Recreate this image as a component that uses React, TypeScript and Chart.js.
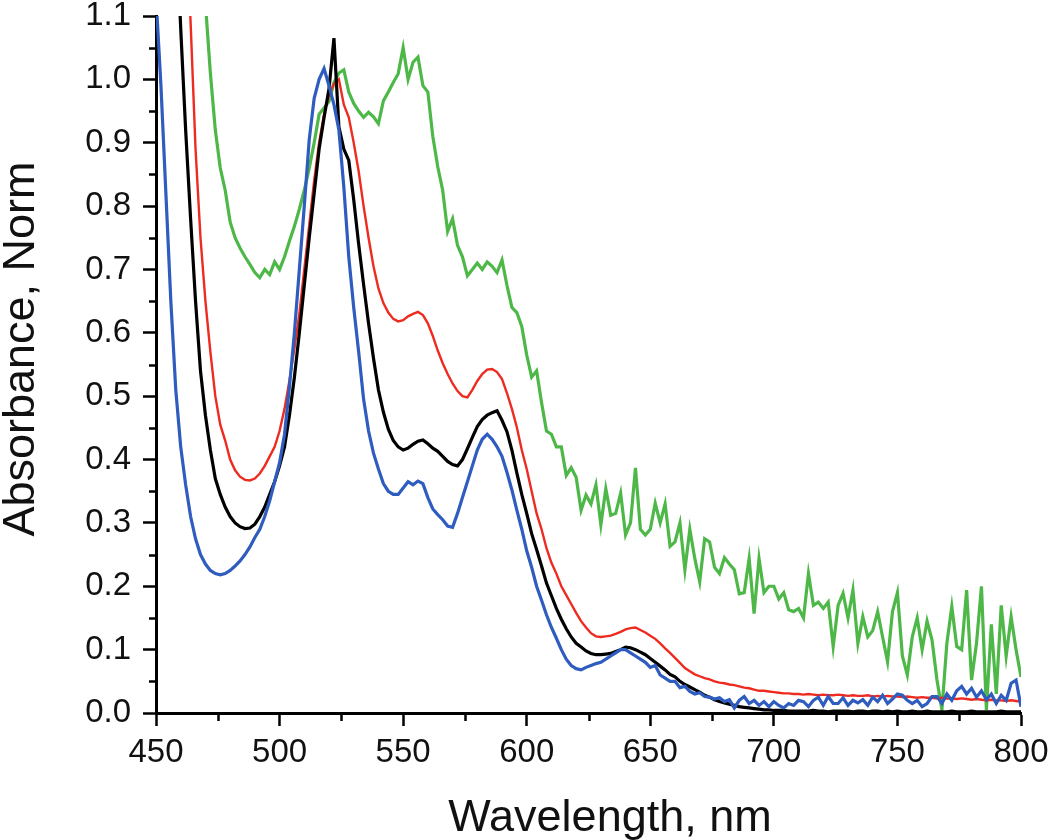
import React, { useEffect, useRef } from "react";
import { Chart, registerables } from "chart.js";

Chart.register(...registerables);

// Sampling grid (nm), 2 nm steps from 450 to 800
const wavelengths: number[] = Array.from({ length: 176 }, (_, i) => 450 + 2 * i);

const blueSeries: number[] = [
  1.13, 0.99, 0.82, 0.65, 0.51, 0.42, 0.36, 0.31, 0.275, 0.25,
  0.235, 0.225, 0.22, 0.218, 0.22, 0.225, 0.232, 0.24, 0.25, 0.262,
  0.277, 0.29, 0.31, 0.335, 0.365, 0.395, 0.44, 0.515, 0.6, 0.7,
  0.8, 0.905, 0.97, 1.0, 1.017, 0.99, 0.96, 0.92, 0.83, 0.72,
  0.64, 0.57, 0.495, 0.445, 0.41, 0.385, 0.362, 0.35, 0.345, 0.345,
  0.355, 0.365, 0.36, 0.366, 0.362, 0.34, 0.322, 0.313, 0.305, 0.295,
  0.293, 0.315, 0.34, 0.365, 0.39, 0.415, 0.432, 0.44, 0.432, 0.42,
  0.405, 0.38, 0.352, 0.32, 0.29, 0.256, 0.23, 0.2, 0.178, 0.155,
  0.135, 0.118, 0.1, 0.085, 0.075, 0.07, 0.068, 0.072, 0.075, 0.078,
  0.08, 0.085, 0.09, 0.095, 0.1, 0.1, 0.095, 0.09, 0.085, 0.08,
  0.072, 0.075, 0.06, 0.055, 0.05, 0.05, 0.04, 0.042, 0.034, 0.03,
  0.032, 0.026, 0.025, 0.022, 0.024, 0.018, 0.021, 0.008, 0.02, 0.026,
  0.015, 0.02, 0.012, 0.018, 0.01, 0.018, 0.012, 0.008, 0.015, 0.012,
  0.02, 0.018, 0.01, 0.02, 0.025, 0.012, 0.026, 0.015, 0.015, 0.024,
  0.012, 0.02, 0.016, 0.021, 0.012, 0.025, 0.018, 0.028, 0.015, 0.022,
  0.03, 0.028, 0.02, 0.015, 0.02, 0.01, 0.015, 0.026, 0.026, 0.015,
  0.03, 0.02, 0.035, 0.042, 0.03, 0.039, 0.025, 0.035, 0.021, 0.03,
  0.015, 0.028, 0.02, 0.047, 0.052, 0.01,
];

const blackSeries: number[] = [
  1.9, 1.75, 1.6, 1.44, 1.26, 1.08, 0.92, 0.78, 0.65, 0.54,
  0.47, 0.415, 0.37, 0.345, 0.325, 0.31, 0.3, 0.294, 0.291, 0.292,
  0.298, 0.31, 0.325, 0.345, 0.365, 0.39, 0.42, 0.47, 0.53, 0.6,
  0.675, 0.75, 0.82, 0.89, 0.94, 0.985, 1.065, 0.925, 0.89, 0.872,
  0.81, 0.74, 0.676, 0.615, 0.56, 0.51, 0.475, 0.448, 0.43, 0.42,
  0.415, 0.418, 0.424, 0.429, 0.431, 0.425, 0.418, 0.413, 0.405, 0.397,
  0.392, 0.39, 0.4, 0.417, 0.435, 0.452, 0.463, 0.47, 0.474, 0.477,
  0.462, 0.444, 0.415, 0.379, 0.345, 0.315, 0.283, 0.258, 0.232, 0.205,
  0.185, 0.165, 0.148, 0.133, 0.12, 0.11, 0.104, 0.098, 0.094, 0.092,
  0.092, 0.093, 0.094, 0.097, 0.1, 0.104, 0.103, 0.1, 0.096, 0.092,
  0.086, 0.08, 0.074, 0.068, 0.061, 0.057, 0.05, 0.045, 0.041, 0.037,
  0.033, 0.028, 0.025, 0.021, 0.018, 0.016, 0.014, 0.012, 0.01, 0.009,
  0.008, 0.007, 0.006, 0.005, 0.005, 0.004, 0.004, 0.004, 0.003, 0.003,
  0.003, 0.003, 0.003, 0.004, 0.003, 0.003, 0.002, 0.003, 0.003, 0.003,
  0.003, 0.002, 0.003, 0.003, 0.002, 0.003, 0.003, 0.002, 0.003, 0.002,
  0.003, 0.002, 0.002, 0.003, 0.002, 0.002, 0.003, 0.002, 0.002, 0.002,
  0.002, 0.003, 0.002, 0.002, 0.002, 0.003, 0.002, 0.002, 0.002, 0.002,
  0.002, 0.003, 0.002, 0.002, 0.002, 0.002,
];

const redSeries: number[] = [
  2.4, 2.2, 2.0, 1.8, 1.62, 1.45, 1.28, 1.09, 0.89, 0.75,
  0.65, 0.57, 0.5, 0.455, 0.43, 0.4, 0.383, 0.373, 0.368, 0.367,
  0.37, 0.378, 0.39, 0.405, 0.42, 0.445, 0.48, 0.525, 0.575, 0.63,
  0.7, 0.77, 0.84, 0.9, 0.945, 0.975, 0.993, 1.0, 0.96, 0.94,
  0.9, 0.855, 0.8, 0.75, 0.705, 0.67, 0.647, 0.632, 0.622, 0.618,
  0.62, 0.626, 0.63, 0.633, 0.628, 0.615, 0.595, 0.572, 0.552, 0.535,
  0.52, 0.508, 0.5, 0.498, 0.51, 0.524, 0.535, 0.542, 0.543, 0.538,
  0.527, 0.505, 0.48, 0.451, 0.415, 0.385, 0.35, 0.315, 0.29, 0.26,
  0.237, 0.22, 0.2, 0.186, 0.172, 0.158, 0.145, 0.135, 0.126, 0.121,
  0.12, 0.121, 0.122, 0.125, 0.128, 0.132, 0.134, 0.135, 0.131, 0.127,
  0.122, 0.117, 0.11, 0.102, 0.095, 0.087, 0.079, 0.071, 0.066, 0.061,
  0.058, 0.055, 0.053, 0.05, 0.048, 0.047, 0.045, 0.044, 0.042, 0.04,
  0.039, 0.037, 0.035, 0.035, 0.034, 0.033, 0.032, 0.031, 0.031, 0.03,
  0.03, 0.029, 0.03, 0.029, 0.028, 0.029, 0.028, 0.028, 0.029, 0.028,
  0.027, 0.028, 0.027, 0.027, 0.028, 0.026, 0.027, 0.026, 0.027, 0.026,
  0.026, 0.025, 0.026, 0.025, 0.024, 0.025, 0.024, 0.024, 0.023, 0.024,
  0.023, 0.023, 0.022, 0.023, 0.022, 0.021, 0.022, 0.021, 0.02, 0.021,
  0.02, 0.02, 0.019, 0.02, 0.019, 0.018,
];

const greenSeries: number[] = [
  2.2, 2.05, 1.9, 1.76, 1.63, 1.52, 1.42, 1.33, 1.25, 1.18,
  1.12, 1.01, 0.92, 0.86, 0.825, 0.775, 0.75, 0.734, 0.72, 0.708,
  0.695, 0.687, 0.7, 0.692, 0.712, 0.7, 0.72, 0.745, 0.768, 0.795,
  0.825, 0.86, 0.9, 0.945, 0.955, 0.965, 0.995, 1.01, 1.015, 0.98,
  0.962, 0.95, 0.94, 0.948, 0.941, 0.93, 0.966, 0.98, 0.995, 1.009,
  1.05, 1.0, 1.027, 1.035, 0.99, 0.98, 0.91, 0.862, 0.825, 0.76,
  0.78, 0.738, 0.72, 0.69, 0.7, 0.71, 0.7, 0.712, 0.705, 0.695,
  0.715, 0.675, 0.64, 0.632, 0.61, 0.565, 0.53, 0.54, 0.49, 0.445,
  0.44, 0.42, 0.42, 0.375, 0.387, 0.372, 0.32, 0.344, 0.33, 0.36,
  0.297, 0.354, 0.312, 0.315, 0.347, 0.281, 0.3, 0.387, 0.29, 0.281,
  0.29, 0.331, 0.3, 0.33, 0.263, 0.27, 0.3, 0.226, 0.29, 0.244,
  0.207, 0.275, 0.27, 0.23, 0.22, 0.245, 0.235, 0.226, 0.188, 0.19,
  0.244, 0.157, 0.244, 0.19, 0.2, 0.2, 0.18, 0.19, 0.163, 0.16,
  0.165, 0.15, 0.22, 0.17, 0.175, 0.165, 0.175, 0.105, 0.17, 0.189,
  0.15, 0.194, 0.11, 0.152, 0.12, 0.13, 0.16, 0.12, 0.081, 0.16,
  0.19, 0.09, 0.06, 0.12, 0.15, 0.1, 0.145, 0.115, 0.052, 0.005,
  0.11, 0.168, 0.105, 0.1, 0.194, 0.052, 0.11, 0.2, 0.005, 0.14,
  0.03, 0.17, 0.09, 0.152, 0.1, 0.057,
];

const xTickValues: number[] = [450, 500, 550, 600, 650, 700, 750, 800];
const xMinorTickValues: number[] = [475, 525, 575, 625, 675, 725, 775];
const yMinorTickValues: number[] = [0.05, 0.15, 0.25, 0.35, 0.45, 0.55, 0.65, 0.75, 0.85, 0.95, 1.05];

const xTitle = "Wavelength, nm";
const yTitle = "Absorbance, Norm";

const FONT = '"Liberation Sans", Arial, Helvetica, sans-serif';

const toPoints = (ys: number[]) => ys.map((y, i) => ({ x: wavelengths[i], y }));

const zeroPadding = (s: any) => {
  s.paddingTop = 0;
  s.paddingBottom = 0;
  s.paddingLeft = 0;
  s.paddingRight = 0;
};

const decorPlugin = {
  id: "decor",
  afterDraw(chart: any) {
    const ctx = chart.ctx;
    const xs = chart.scales.x;
    const ys = chart.scales.y;
    const area = chart.chartArea;
    ctx.save();
    ctx.strokeStyle = "#000";
    ctx.lineWidth = 2.5;
    for (const v of yMinorTickValues) {
      const py = Math.round(ys.getPixelForValue(v)) + 0.5;
      ctx.beginPath();
      ctx.moveTo(area.left, py);
      ctx.lineTo(area.left - 7, py);
      ctx.stroke();
    }
    for (const v of xMinorTickValues) {
      const px = Math.round(xs.getPixelForValue(v)) + 0.5;
      ctx.beginPath();
      ctx.moveTo(px, area.bottom);
      ctx.lineTo(px, area.bottom + 8);
      ctx.stroke();
    }
    ctx.fillStyle = "#111";
    ctx.font = `45px ${FONT}`;
    ctx.textAlign = "center";
    ctx.textBaseline = "alphabetic";
    ctx.fillText(xTitle, 610, 831);
    ctx.translate(34, 349);
    ctx.rotate(-Math.PI / 2);
    ctx.fillText(yTitle, 0, 0);
    ctx.restore();
  },
};

export default function App() {
  const canvasRef = useRef<HTMLCanvasElement | null>(null);

  useEffect(() => {
    if (!canvasRef.current) return;
    const chart = new Chart(canvasRef.current, {
      type: "line",
      data: {
        datasets: [
          { label: "blue", data: toPoints(blueSeries), borderColor: "#2f5cbf", borderWidth: 3.2 },
          { label: "black", data: toPoints(blackSeries), borderColor: "#000000", borderWidth: 3.2 },
          { label: "red", data: toPoints(redSeries), borderColor: "#ee2b20", borderWidth: 2.4 },
          { label: "green", data: toPoints(greenSeries), borderColor: "#4db848", borderWidth: 3.2 },
        ],
      },
      options: {
        animation: false,
        responsive: true,
        maintainAspectRatio: false,
        elements: { point: { radius: 0 }, line: { tension: 0 } },
        layout: { padding: { left: 0, top: 16, right: 29, bottom: 0 } },
        plugins: { legend: { display: false }, tooltip: { enabled: false } },
        scales: {
          x: {
            type: "linear",
            min: 450,
            max: 800,
            afterFit: (s: any) => {
              s.height = 127;
              zeroPadding(s);
            },
            afterBuildTicks: (s: any) => {
              s.ticks = xTickValues.map((v) => ({ value: v }));
            },
            grid: {
              drawOnChartArea: false,
              drawTicks: true,
              tickLength: 13,
              tickWidth: 2.5,
              tickColor: "#000",
            },
            border: { display: true, color: "#000", width: 3 },
            ticks: {
              autoSkip: false,
              maxRotation: 0,
              padding: 7,
              color: "#111",
              font: { family: FONT, size: 33 },
              callback: (v: any) => String(v),
            },
          },
          y: {
            type: "linear",
            min: 0,
            max: 1.1,
            afterFit: (s: any) => {
              s.width = 156;
              zeroPadding(s);
            },
            grid: {
              drawOnChartArea: false,
              drawTicks: true,
              tickLength: 13,
              tickWidth: 2.5,
              tickColor: "#000",
            },
            border: { display: true, color: "#000", width: 3 },
            ticks: {
              stepSize: 0.1,
              autoSkip: false,
              padding: 12,
              color: "#111",
              font: { family: FONT, size: 33 },
              callback: (v: any) => Number(v).toFixed(1),
            },
          },
        },
      },
      plugins: [decorPlugin],
    });
    return () => chart.destroy();
  }, []);

  return (
    <div style={{ position: "fixed", left: 0, top: 0, width: 1050, height: 840, background: "#fff" }}>
      <canvas ref={canvasRef} />
    </div>
  );
}
